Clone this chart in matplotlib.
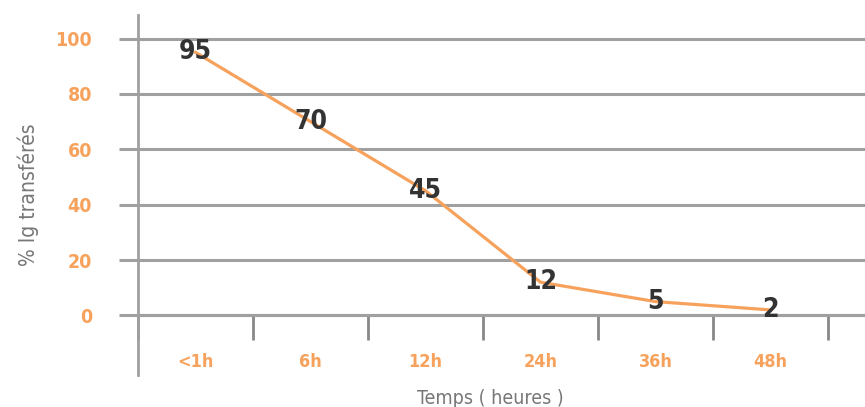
import numpy as np
import matplotlib.pyplot as plt

# donnees
temps = ['<1h', '6h', '12h', '24h', '36h', '48h']
pct_transferes = [95, 70, 45, 12, 5, 2]
graduations_y = [0, 20, 40, 60, 80, 100]

orange = '#f7a25c'
gris = '#a0a0a0'
police = ['DejaVu Sans']
etroit = 'condensed'

fig = plt.figure(figsize=(8.65, 4.07), dpi=100)
ax = fig.add_axes([138 / 865, 1 - 375 / 407, 1 - 138 / 865, 360 / 407])

x = np.arange(len(temps))
ax.plot(x, pct_transferes, color=orange, linewidth=2.3, zorder=3)
for xi, v in zip(x, pct_transferes):
    ax.text(xi, v, str(v), ha='center', va='center', fontsize=19, fontweight='bold',
            color='#333333', family=police, stretch=etroit, zorder=4)

ax.set_xlim(-0.5, 5.82)
ax.set_ylim(-21.5, 108.5)

# lignes horizontales de la grille
ax.set_yticks(graduations_y)
ax.yaxis.grid(True, color=gris, linewidth=2.2)
ax.tick_params(axis='y', direction='out', length=14, width=2.2, color=gris,
               labelcolor=orange, labelsize=14, pad=19)
for lab in ax.get_yticklabels():
    lab.set_fontweight('bold')
    lab.set_family(police)
    lab.set_stretch(etroit)

# axe des x pose sur la valeur 0
for s in ['top', 'right']:
    ax.spines[s].set_visible(False)
ax.spines['bottom'].set_position(('data', 0))
ax.spines['bottom'].set_color(gris)
ax.spines['bottom'].set_linewidth(2.2)
ax.spines['left'].set_color(gris)
ax.spines['left'].set_linewidth(2)

ax.set_xticks(x)
ax.set_xticklabels(temps)
ax.set_xticks(np.arange(-0.5, 6, 1), minor=True)
ax.tick_params(axis='x', which='major', length=0, labelcolor=orange, labelsize=13, pad=27)
ax.tick_params(axis='x', which='minor', direction='out', length=18, width=2, color='#888888')
for lab in ax.get_xticklabels():
    lab.set_fontweight('bold')
    lab.set_family(police)
    lab.set_stretch(etroit)

ax.set_ylabel('% Ig transférés', color='#777777', fontsize=15, family=police,
              stretch=etroit, labelpad=12)
ax.text(0.484, -0.065, 'Temps ( heures )', transform=ax.transAxes, ha='center', va='center',
        color='#777777', fontsize=14, family=police, stretch=etroit)

fig.savefig('out.png', dpi=100)
